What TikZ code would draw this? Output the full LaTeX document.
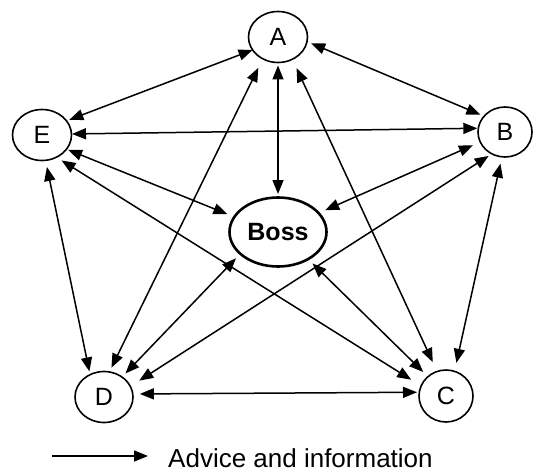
\documentclass[tikz,border=0pt]{standalone}
\usepackage{fontspec}
\setmainfont{Liberation Sans}
\usetikzlibrary{arrows.meta,shapes.geometric}

\tikzset{
  person/.style={ellipse, draw, line width=1.6pt, inner sep=0pt, outer sep=0pt,
    minimum width=59pt, minimum height=51pt, font=\fontsize{25}{29}\selectfont},
  bossnode/.style={ellipse, draw, line width=2.6pt, inner sep=0pt, outer sep=0pt,
    minimum width=97pt, minimum height=69pt, font=\fontsize{25}{30}\selectfont\bfseries},
  tip/.tip={Triangle[length=14pt,width=11pt]},
  link/.style={line width=1.5pt, tip-tip},
  oneway/.style={line width=1.5pt, -tip},
}

\begin{document}
\begin{tikzpicture}[x=1pt, y=-1pt]
\useasboundingbox (0,0) rectangle (534,473);

% the five members and the boss
\node[person] (A) at (278,37) {A};
\node[person] (E) at (42,135) {E};
\node[person, minimum width=54pt, minimum height=50pt] (B) at (505,132) {B};
\node[person, minimum width=58pt] (D) at (104,397) {D};
\node[person, minimum width=54pt, minimum height=52pt] (C) at (446,396) {C};
\node[bossnode] (Boss) at (278,232) {Boss};

% two-way channels between every pair
\draw[link, shorten >=3pt] (A.207.5) -- (E.30.6);
\draw[link, shorten <=4.5pt, shorten >=4pt] (A.351.6) -- (B.143.1);
\draw[link, shorten <=3pt, shorten >=3.5pt] (A.270) -- (Boss.90);
\draw[link, shorten <=10pt, shorten >=4.8pt] (A.235) -- (D.78.7);
\draw[link, shorten <=9.8pt, shorten >=10.3pt] (A.303.7) -- (C.110.9);
\draw[link, shorten <=0.5pt, shorten >=1pt] (E.2.9) -- (B.172.6);
\draw[link, shorten <=1.7pt, shorten >=7.5pt] (E.330) -- (Boss.161.6);
\draw[link, shorten <=6pt, shorten >=11.7pt] (E.303.7) -- (C.158.7);
\draw[link, shorten <=6.8pt, shorten >=3.3pt] (E.278.9) -- (D.122.6);
\draw[link, shorten <=8pt, shorten >=7.2pt] (B.202.1) -- (Boss.25.1);
\draw[link, shorten <=3.8pt, shorten >=10.6pt] (B.239) -- (D.22.6);
\draw[link, shorten <=7pt, shorten >=8.7pt] (B.263.5) -- (C.71.6);
\draw[link, shorten <=6.3pt, shorten >=5pt] (Boss.210.2) -- (D.48.8);
\draw[link, shorten <=6.2pt, shorten >=6.7pt] (Boss.318.5) -- (C.133.8);
\draw[link, shorten <=7pt, shorten >=2.3pt] (D.6.3) -- (C.172);

% key
\node[anchor=base west, inner sep=0pt, font=\fontsize{26}{30}\selectfont] (key) at (168,467) {Advice and information};
\coordinate (keystart) at (52,456);
\draw[oneway, shorten >=20pt] (keystart) -- (keystart -| key.west);
\end{tikzpicture}
\end{document}
